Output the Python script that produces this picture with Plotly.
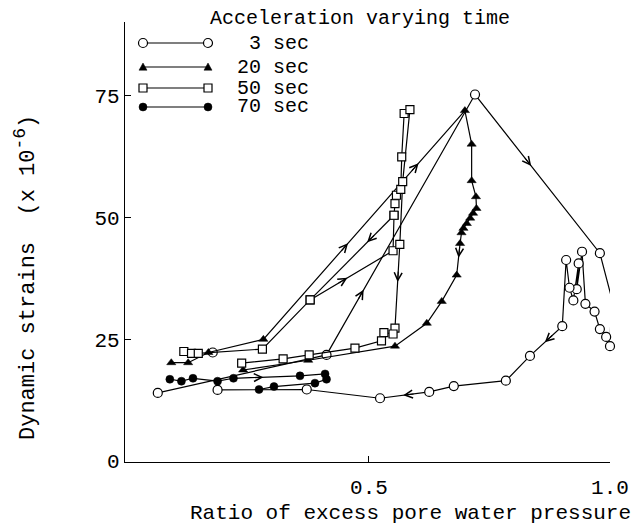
import plotly.graph_objects as go

# ---------------- data ----------------
series_names = ["3 sec", "20 sec", "50 sec", "70 sec"]

x_3s = [0.062, 0.412, 0.720, 0.979, 1.003, 1.000, 0.992, 0.979, 0.968, 0.949, 0.942,
        0.931, 0.935, 0.924, 0.916, 0.909, 0.901, 0.834, 0.784, 0.676, 0.625, 0.523,
        0.371, 0.186, None, 0.176]
y_3s = [14.0, 21.8, 75.3, 42.7, 33.6, 23.6, 25.5, 27.1, 30.7, 32.3, 43.0,
        35.3, 40.6, 33.0, 35.6, 41.3, 27.7, 21.6, 16.5, 15.4, 14.2, 12.9,
        14.7, 14.6, None, 22.3]

x_20s = [0.090, 0.125, 0.167, 0.281, 0.699, 0.713, 0.713, 0.722, 0.723, 0.716, 0.710,
         0.703, 0.696, 0.692, 0.689, 0.682, 0.651, 0.620, 0.554, 0.374, 0.239]
y_20s = [20.2, 20.2, 22.3, 25.0, 72.0, 65.1, 57.6, 54.3, 51.9, 50.9, 49.9,
         48.8, 47.8, 46.9, 44.7, 38.2, 32.8, 28.3, 23.6, 20.7, 18.7]

x_50s = [0.116, 0.132, 0.146, 0.279, 0.378, 0.550, 0.552, 0.554, 0.557, 0.566, 0.568,
         0.573, 0.585, 0.570, 0.564, 0.554, 0.550, 0.531, 0.526, 0.471, 0.376, 0.322,
         0.236, None, 0.552, 0.378]
y_50s = [22.5, 22.1, 22.1, 23.0, 33.1, 43.2, 50.5, 52.9, 54.6, 55.8, 62.5,
         71.4, 72.2, 57.4, 44.5, 27.3, 26.1, 26.4, 24.7, 23.2, 21.8, 21.0,
         20.1, None, 50.5, 33.1]

x_70s = [0.087, 0.111, 0.135, 0.186, 0.219, 0.357, 0.409, 0.412, 0.388, 0.303, 0.272]
y_70s = [16.8, 16.4, 17.0, 16.4, 17.0, 17.5, 17.9, 16.8, 16.0, 15.3, 14.7]

x_tick_vals = [0.5, 1.0]
x_tick_text = ["0.5", "1.0"]
y_tick_vals = [0, 25, 50, 75]

# arrows: (series, index of segment start, fraction along segment)
arrow_marks = [("3 sec", 1, 0.25), ("3 sec", 2, 0.45), ("3 sec", 16, 0.54), ("3 sec", 20, 0.53),
               ("20 sec", 3, 0.42), ("20 sec", 3, 0.77), ("20 sec", 14, 0.45),
               ("50 sec", 14, 0.45), ("50 sec", 24, 0.32), ("50 sec", 4, 0.45),
               ("70 sec", 4, 0.45)]

# ---------------- layout constants ----------------
OFF = 8                     # page body margin of the html page
W, H = 641 - OFF, 530 - OFF
# plot box in page pixels: left 125, right 610, top 22, bottom 462
ML, MT = 125 - OFF, 22 - OFF
MR, MB = W - (610 - OFF), H - (462 - OFF)
PW, PH = W - ML - MR, H - MT - MB
XR = [-0.006, 1.0]
YR = [-0.2, 90.2]
FONT = "Liberation Mono, Courier New, monospace"
FS = 21

data = {"3 sec": (x_3s, y_3s), "20 sec": (x_20s, y_20s),
        "50 sec": (x_50s, y_50s), "70 sec": (x_70s, y_70s)}
styles = {
    "3 sec": dict(symbol="circle", size=9, color="white", line=dict(color="black", width=1.2)),
    "20 sec": dict(symbol="triangle-up", size=8, color="black", line=dict(color="black", width=0.5)),
    "50 sec": dict(symbol="square", size=8, color="white", line=dict(color="black", width=1.2)),
    "70 sec": dict(symbol="circle", size=8, color="black", line=dict(color="black", width=0.5)),
}

fig = go.Figure()
for name in series_names:
    xs, ys = data[name]
    fig.add_trace(go.Scatter(x=xs, y=ys, mode="lines+markers", name=name,
                             line=dict(color="black", width=1.2),
                             marker=styles[name], cliponaxis=False, showlegend=False))

# arrows derived from the data segments
sx = PW / (XR[1] - XR[0])
sy = PH / (YR[1] - YR[0])
annotations = []
for name, i, f in arrow_marks:
    xs, ys = data[name]
    x0, y0, x1, y1 = xs[i], ys[i], xs[i + 1], ys[i + 1]
    hx, hy = x0 + f * (x1 - x0), y0 + f * (y1 - y0)
    dxp, dyp = (x1 - x0) * sx, -(y1 - y0) * sy
    n = (dxp ** 2 + dyp ** 2) ** 0.5
    L = 12
    annotations.append(dict(x=hx, y=hy, xref="x", yref="y", ax=-dxp / n * L, ay=-dyp / n * L,
                            showarrow=True, arrowhead=5, arrowsize=1.4, arrowwidth=1.1,
                            arrowcolor="black", standoff=0, text=""))


def paper(px, py):
    """page pixel position -> paper coordinates"""
    return (px - OFF - ML) / PW, 1 - (py - OFF - MT) / PH


# axis titles
tx, ty = paper(633, 513)
annotations.append(dict(text="Ratio of excess pore water pressure", x=tx, y=ty, xref="paper", yref="paper",
                        xanchor="right", yanchor="middle", showarrow=False,
                        font=dict(family=FONT, size=FS, color="black")))
tx, ty = paper(25, 278)
annotations.append(dict(text="Dynamic strains\u00a0\u00a0(x 10<sup><span style='font-size:18px'>-6</span></sup>)",
                        x=tx, y=ty, xref="paper", yref="paper", textangle=-90,
                        xanchor="center", yanchor="middle", showarrow=False,
                        font=dict(family=FONT, size=22, color="black")))

# custom legend
tx, ty = paper(208, 19)
annotations.append(dict(text="Acceleration varying time", x=tx, y=ty, xref="paper", yref="paper",
                        xanchor="left", yanchor="middle", showarrow=False,
                        font=dict(family=FONT, size=20, color="black")))
leg_y = [43, 67, 88, 107]
leg_x0, leg_x1, leg_tx = 143, 208, 311
shapes = []
for name, py in zip(series_names, leg_y):
    xa, ya = paper(leg_x0, py)
    xb, _ = paper(leg_x1, py)
    shapes.append(dict(type="line", xref="paper", yref="paper", x0=xa, x1=xb, y0=ya, y1=ya,
                       line=dict(color="black", width=1.2)))
    st = styles[name]
    for xm in (xa, xb):
        common = dict(xref="paper", yref="paper", xsizemode="pixel", ysizemode="pixel",
                      xanchor=xm, yanchor=ya, fillcolor=st["color"],
                      line=dict(color="black", width=st["line"]["width"]))
        r = st["size"] / 2
        if st["symbol"] == "circle":
            shapes.append(dict(type="circle", x0=-r, x1=r, y0=-r, y1=r, **common))
        elif st["symbol"] == "square":
            shapes.append(dict(type="rect", x0=-r, x1=r, y0=-r, y1=r, **common))
        else:
            shapes.append(dict(type="path", path=f"M{-r},{-r * 0.8} L{r},{-r * 0.8} L0,{r} Z", **common))
    tx, ty = paper(leg_tx, py)
    annotations.append(dict(text=name, x=tx, y=ty, xref="paper", yref="paper",
                            xanchor="right", yanchor="middle", showarrow=False,
                            font=dict(family=FONT, size=20, color="black")))

fig.update_layout(
    width=W, height=H, margin=dict(l=ML, r=MR, t=MT, b=MB, autoexpand=False),
    paper_bgcolor="white", plot_bgcolor="white",
    font=dict(family=FONT, size=FS, color="black"),
    annotations=annotations, shapes=shapes, showlegend=False,
)
fig.update_xaxes(range=XR, showline=True, linecolor="black", linewidth=1.4, ticks="inside",
                 ticklen=6, tickcolor="black", tickvals=x_tick_vals, ticktext=x_tick_text,
                 showgrid=False, zeroline=False, automargin=False, ticklabelstandoff=6,
                 tickfont=dict(family=FONT, size=FS, color="black"))
fig.update_yaxes(range=YR, showline=True, linecolor="black", linewidth=1.4, ticks="inside",
                 ticklen=6, tickcolor="black", tickvals=y_tick_vals, ticksuffix="\u00a0",
                 showgrid=False, zeroline=False, automargin=False,
                 tickfont=dict(family=FONT, size=FS, color="black"))

fig.write_html("out.html")
